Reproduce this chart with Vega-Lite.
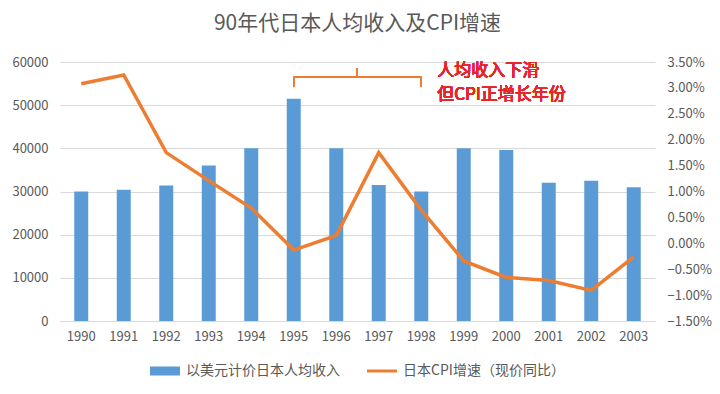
{
  "$schema": "https://vega.github.io/schema/vega-lite/v6.json",
  "width": 595,
  "height": 259,
  "autosize": {"type": "none"},
  "padding": {"left": 60, "top": 62, "right": 65, "bottom": 73},
  "background": "white",
  "config": {
    "view": {"stroke": null},
    "font": "Noto Sans CJK SC",
    "axis": {"labelFont": "Noto Sans CJK SC", "labelColor": "#595959", "labelFontSize": 13, "ticks": false, "domain": false, "gridColor": "#d9d9d9", "title": null},
    "legend": {"labelFont": "Noto Sans CJK SC", "labelFontSize": 14, "labelColor": "#595959", "labelLimit": 400, "layout": {"bottom": {"anchor": "middle"}}}
  },
  "title": {"text": "90年代日本人均收入及CPI增速", "fontSize": 21, "fontWeight": "normal", "color": "#595959", "font": "Noto Sans CJK SC", "anchor": "middle", "offset": 22},
  "data": {"values": [
    {"year": "1990", "income": 30000, "cpi": 0.0308},
    {"year": "1991", "income": 30400, "cpi": 0.0325},
    {"year": "1992", "income": 31400, "cpi": 0.0175},
    {"year": "1993", "income": 36000, "cpi": 0.0121},
    {"year": "1994", "income": 40000, "cpi": 0.0068},
    {"year": "1995", "income": 51500, "cpi": -0.0013},
    {"year": "1996", "income": 40000, "cpi": 0.0015},
    {"year": "1997", "income": 31500, "cpi": 0.0175},
    {"year": "1998", "income": 30000, "cpi": 0.0064},
    {"year": "1999", "income": 40000, "cpi": -0.0034},
    {"year": "2000", "income": 39600, "cpi": -0.0066},
    {"year": "2001", "income": 32000, "cpi": -0.0072},
    {"year": "2002", "income": 32500, "cpi": -0.0091},
    {"year": "2003", "income": 31000, "cpi": -0.0026}
  ]},
  "encoding": {
    "x": {"field": "year", "type": "ordinal", "scale": {"paddingInner": 0, "paddingOuter": 0}, "axis": {"labelAngle": 0, "labelPadding": 9, "domain": true, "domainColor": "#d9d9d9", "grid": false}}
  },
  "layer": [
    {
      "layer": [
        {
          "mark": {"type": "bar", "size": 14},
          "encoding": {
            "y": {"field": "income", "type": "quantitative", "scale": {"domain": [0, 60000]}, "axis": {"values": [0, 10000, 20000, 30000, 40000, 50000, 60000], "format": "d", "labelPadding": 12, "grid": true}},
            "color": {"datum": "以美元计价日本人均收入", "type": "nominal", "scale": {"domain": ["以美元计价日本人均收入", "日本CPI增速（现价同比）"], "range": ["#5b9bd5", "#ed7d31"]},
              "legend": {"orient": "bottom", "direction": "horizontal", "title": null, "offset": 13, "columnPadding": 27, "labelOffset": 6, "symbolSize": 900,
                "encode": {"symbols": {"update": {
                  "shape": {"signal": "datum.value === '以美元计价日本人均收入' ? 'M-1,-0.3H1V0.3H-1Z' : 'M-1,-0.1H1V0.1H-1Z'"},
                  "fill": {"scale": "color", "field": "value"},
                  "fillOpacity": {"value": 1},
                  "strokeWidth": {"value": 0}
                }}}}}
          }
        },
        {
          "mark": {"type": "rule", "color": "#ed7d31", "strokeWidth": 1},
          "encoding": {"x": {"datum": "1995"}, "x2": {"datum": "1998"}, "y": {"datum": 56500, "type": "quantitative"}}
        },
        {
          "mark": {"type": "rule", "color": "#ed7d31", "strokeWidth": 1},
          "encoding": {"x": {"datum": "1995"}, "y": {"datum": 56500, "type": "quantitative"}, "y2": {"datum": 54200}}
        },
        {
          "mark": {"type": "rule", "color": "#ed7d31", "strokeWidth": 1},
          "encoding": {"x": {"datum": "1998"}, "y": {"datum": 56500, "type": "quantitative"}, "y2": {"datum": 54200}}
        },
        {
          "mark": {"type": "rule", "color": "#ed7d31", "strokeWidth": 1, "xOffset": 21},
          "encoding": {"x": {"datum": "1996"}, "y": {"datum": 56500, "type": "quantitative"}, "y2": {"datum": 58600}}
        },
        {
          "mark": {"type": "text", "text": ["人均收入下滑", "但CPI正增长年份"], "color": "#e8262a", "fontSize": 17, "fontWeight": 400, "align": "left", "baseline": "top", "lineHeight": 24, "dx": 16, "font": "Noto Sans CJK SC"},
          "encoding": {"x": {"datum": "1998"}, "y": {"datum": 59700, "type": "quantitative"}}
        }
      ]
    },
    {
      "mark": {"type": "line", "strokeWidth": 3.5, "strokeJoin": "miter"},
      "encoding": {
        "y": {"field": "cpi", "type": "quantitative", "scale": {"domain": [-0.015, 0.035]}, "axis": {"orient": "right", "values": [-0.015, -0.01, -0.005, 0, 0.005, 0.01, 0.015, 0.02, 0.025, 0.03, 0.035], "format": ".2%", "labelPadding": 12, "grid": false}},
        "color": {"datum": "日本CPI增速（现价同比）", "type": "nominal"}
      }
    }
  ],
  "resolve": {"scale": {"y": "independent"}}
}
